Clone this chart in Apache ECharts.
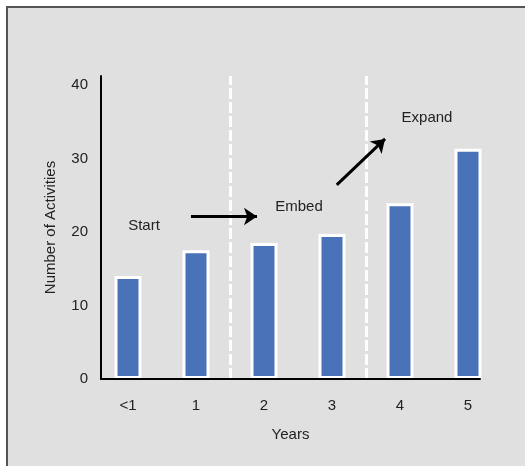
<!DOCTYPE html>
<html><head><meta charset="utf-8">
<script src="https://cdn.jsdelivr.net/npm/echarts@6/dist/echarts.min.js"></script>
<style>html,body{margin:0;padding:0;background:#fff}#c{width:525px;height:466px}</style>
</head><body><div id="c"></div>
<script>
const categories = ['<1', '1', '2', '3', '4', '5'];
const activities = [14, 17.5, 18.5, 19.7, 23.9, 31.3];
const yTicks = [0, 10, 20, 30, 40];
const phaseDividers = [1.5, 3.5];
const phaseLabels = [
  {name: 'Start', x: 0.235, y: 20.8},
  {name: 'Embed', x: 2.515, y: 23.4},
  {name: 'Expand', x: 4.397, y: 35.5}
];
const arrows = [
  [[0.926, 22.1], [1.897, 22.1]],
  [[3.07, 26.4], [3.78, 32.65]]
];

const FONT = 'Liberation Sans';
const FS = 15;
const yMax = 41.2;
const chart = echarts.init(document.getElementById('c'));
chart.setOption({
  animation: false,
  backgroundColor: '#fff',
  textStyle: {fontFamily: FONT},
  graphic: [
    {type: 'rect', z: -10, shape: {x: 6, y: 6, width: 600, height: 600}, style: {fill: '#e0e0e0'}},
    {type: 'polyline', z: -9, shape: {points: [[7, 600], [7, 7], [600, 7]]},
     style: {fill: null, stroke: '#555', lineWidth: 2}}
  ],
  grid: [
    {left: 94, right: 23, top: 76, bottom: 87},
    {left: 101, right: 45, top: 76, bottom: 87}
  ],
  xAxis: [
    {type: 'category', gridIndex: 0, data: categories,
     axisLine: {show: false}, axisTick: {show: false},
     axisLabel: {color: '#222', fontSize: FS, margin: 19, fontFamily: FONT}},
    {type: 'value', gridIndex: 1, min: -27/68, max: 5 + 12/68,
     axisLine: {show: true, onZero: false, lineStyle: {color: '#000', width: 2}},
     axisTick: {show: false}, axisLabel: {show: false}, splitLine: {show: false},
     name: 'Years', nameLocation: 'middle', nameGap: 48,
     nameTextStyle: {color: '#222', fontSize: FS, fontFamily: FONT}, z: 5}
  ],
  yAxis: [
    {type: 'value', gridIndex: 0, min: 0, max: yMax, show: false},
    {type: 'value', gridIndex: 1, min: 0, max: yMax, interval: 10,
     axisLine: {show: true, onZero: false, lineStyle: {color: '#000', width: 2}},
     axisTick: {show: false}, splitLine: {show: false},
     axisLabel: {color: '#222', fontSize: FS, margin: 13, showMaxLabel: false, fontFamily: FONT,
       formatter: v => yTicks.includes(v) ? String(v) : ''},
     name: 'Number of Activities', nameLocation: 'middle', nameGap: 43,
     nameTextStyle: {color: '#222', fontSize: FS, fontFamily: FONT}, z: 5}
  ],
  series: [
    {type: 'bar', xAxisIndex: 0, yAxisIndex: 0, data: activities, barWidth: 27,
     itemStyle: {color: '#4a72b9', borderColor: '#fff', borderWidth: 3}, z: 2},
    {type: 'line', xAxisIndex: 1, yAxisIndex: 1, data: [], silent: true,
     markLine: {silent: true, symbol: ['none', 'none'], label: {show: false},
       lineStyle: {color: '#fff', width: 3, type: [11, 3]},
       data: phaseDividers.map(x => ({xAxis: x}))}},
    {type: 'line', xAxisIndex: 1, yAxisIndex: 1, data: [], silent: true,
     markLine: {silent: true, symbol: ['none', 'arrow'], symbolSize: [13, 13], label: {show: false},
       lineStyle: {color: '#000', width: 3, type: 'solid'},
       data: arrows.map(a => [{coord: a[0]}, {coord: a[1]}])},
     markPoint: {silent: true, symbol: 'circle', symbolSize: 0,
       label: {show: true, position: 'inside', color: '#222', fontSize: FS, fontFamily: FONT,
         formatter: p => p.name},
       data: phaseLabels.map(l => ({name: l.name, coord: [l.x, l.y]}))}}
  ]
});
</script></body></html>
